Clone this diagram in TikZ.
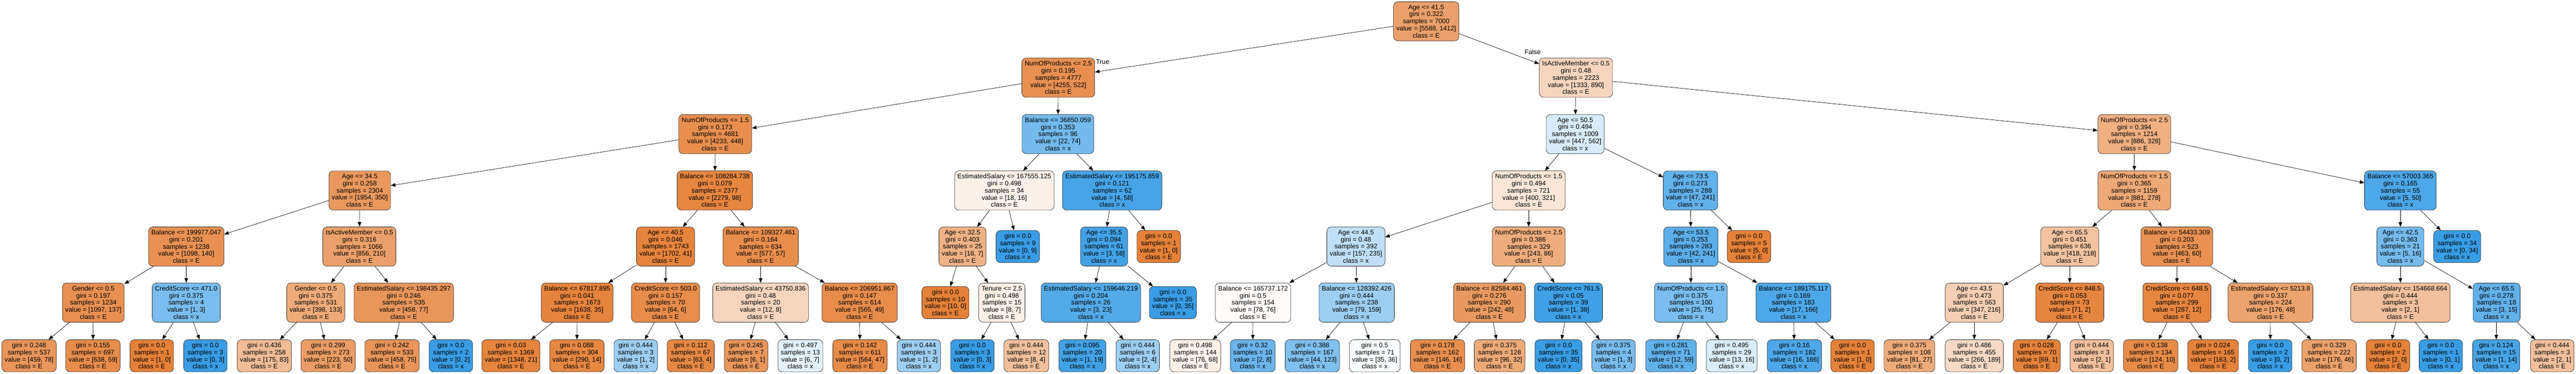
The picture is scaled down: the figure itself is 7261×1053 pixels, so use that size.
\documentclass[tikz,border=0pt]{standalone}
\usepackage{fontspec}
\setmainfont{Liberation Sans}
\usetikzlibrary{arrows.meta}
\definecolor{clsE}{HTML}{E58139}
\definecolor{clsx}{HTML}{399DE5}

\begin{document}
\begin{tikzpicture}[x=1pt,y=-1pt,
		tnode/.style={draw=black!85,line width=1pt,rounded corners=12pt,align=center,
			inner xsep=8pt,inner ysep=8.5pt,font=\fontsize{18.5}{20}\selectfont},
		mixfill/.code 2 args={%
			\ifdim #1pt<#2pt
				\pgfmathsetmacro\mfpct{round(100*(1-#1/#2))}\def\mfcol{clsx}%
			\else
				\pgfmathsetmacro\mfpct{round(100*(1-#2/#1))}\def\mfcol{clsE}%
			\fi
			\pgfkeysalso{fill=\mfcol!\mfpct!white}},
		link/.style={line width=1pt,-{Triangle[length=13pt,width=10pt]}},
		tag/.style={font=\fontsize{18.5}{20}\selectfont}]
	\useasboundingbox (0,0) rectangle (7261,1053);

	\node[tnode,mixfill={5588}{1412}] (l0n1) at (4020,60) {Age <= 41.5\\gini = 0.322\\samples = 7000\\value = [5588, 1412]\\class = E};

	\node[tnode,mixfill={4255}{522}] (l1n1) at (2983,219) {NumOfProducts <= 2.5\\gini = 0.195\\samples = 4777\\value = [4255, 522]\\class = E};
	\node[tnode,mixfill={1333}{890}] (l1n2) at (4442,219) {IsActiveMember <= 0.5\\gini = 0.48\\samples = 2223\\value = [1333, 890]\\class = E};

	\node[tnode,mixfill={4233}{448}] (l2n1) at (2016,378) {NumOfProducts <= 1.5\\gini = 0.173\\samples = 4681\\value = [4233, 448]\\class = E};
	\node[tnode,mixfill={22}{74}] (l2n2) at (2982,378) {Balance <= 36850.059\\gini = 0.353\\samples = 96\\value = [22, 74]\\class = x};
	\node[tnode,mixfill={447}{562}] (l2n3) at (4440,378) {Age <= 50.5\\gini = 0.494\\samples = 1009\\value = [447, 562]\\class = x};
	\node[tnode,mixfill={886}{328}] (l2n4) at (6016,378) {NumOfProducts <= 2.5\\gini = 0.394\\samples = 1214\\value = [886, 328]\\class = E};

	\node[tnode,mixfill={1954}{350}] (l3n1) at (1014,537) {Age <= 34.5\\gini = 0.258\\samples = 2304\\value = [1954, 350]\\class = E};
	\node[tnode,mixfill={2279}{98}] (l3n2) at (2015,537) {Balance <= 108284.738\\gini = 0.079\\samples = 2377\\value = [2279, 98]\\class = E};
	\node[tnode,mixfill={18}{16}] (l3n3) at (2831,537) {EstimatedSalary <= 167555.125\\gini = 0.498\\samples = 34\\value = [18, 16]\\class = E};
	\node[tnode,mixfill={4}{58}] (l3n4) at (3135,537) {EstimatedSalary <= 195175.859\\gini = 0.121\\samples = 62\\value = [4, 58]\\class = x};
	\node[tnode,mixfill={400}{321}] (l3n5) at (4309,537) {NumOfProducts <= 1.5\\gini = 0.494\\samples = 721\\value = [400, 321]\\class = E};
	\node[tnode,mixfill={47}{241}] (l3n6) at (4765,537) {Age <= 73.5\\gini = 0.273\\samples = 288\\value = [47, 241]\\class = x};
	\node[tnode,mixfill={881}{278}] (l3n7) at (6016,537) {NumOfProducts <= 1.5\\gini = 0.365\\samples = 1159\\value = [881, 278]\\class = E};
	\node[tnode,mixfill={5}{50}] (l3n8) at (6766,537) {Balance <= 57003.365\\gini = 0.165\\samples = 55\\value = [5, 50]\\class = x};

	\node[tnode,mixfill={1098}{140}] (l4n1) at (525,695) {Balance <= 199977.047\\gini = 0.201\\samples = 1238\\value = [1098, 140]\\class = E};
	\node[tnode,mixfill={856}{210}] (l4n2) at (1013,695) {IsActiveMember <= 0.5\\gini = 0.316\\samples = 1066\\value = [856, 210]\\class = E};
	\node[tnode,mixfill={1702}{41}] (l4n3) at (1876,695) {Age <= 40.5\\gini = 0.046\\samples = 1743\\value = [1702, 41]\\class = E};
	\node[tnode,mixfill={577}{57}] (l4n4) at (2144,695) {Balance <= 109327.461\\gini = 0.164\\samples = 634\\value = [577, 57]\\class = E};
	\node[tnode,mixfill={18}{7}] (l4n5) at (2713,695) {Age <= 32.5\\gini = 0.403\\samples = 25\\value = [18, 7]\\class = E};
	\node[tnode,mixfill={0}{9}] (l4n6) at (2869,695) {gini = 0.0\\samples = 9\\value = [0, 9]\\class = x};
	\node[tnode,mixfill={3}{58}] (l4n7) at (3112,695) {Age <= 35.5\\gini = 0.094\\samples = 61\\value = [3, 58]\\class = x};
	\node[tnode,mixfill={1}{0}] (l4n8) at (3266,695) {gini = 0.0\\samples = 1\\value = [1, 0]\\class = E};
	\node[tnode,mixfill={157}{235}] (l4n9) at (3822,695) {Age <= 44.5\\gini = 0.48\\samples = 392\\value = [157, 235]\\class = x};
	\node[tnode,mixfill={243}{86}] (l4n10) at (4309,695) {NumOfProducts <= 2.5\\gini = 0.386\\samples = 329\\value = [243, 86]\\class = E};
	\node[tnode,mixfill={42}{241}] (l4n11) at (4766,695) {Age <= 53.5\\gini = 0.253\\samples = 283\\value = [42, 241]\\class = x};
	\node[tnode,mixfill={5}{0}] (l4n12) at (4930,695) {gini = 0.0\\samples = 5\\value = [5, 0]\\class = E};
	\node[tnode,mixfill={418}{218}] (l4n13) at (5834,695) {Age <= 65.5\\gini = 0.451\\samples = 636\\value = [418, 218]\\class = E};
	\node[tnode,mixfill={463}{60}] (l4n14) at (6136,695) {Balance <= 54433.309\\gini = 0.203\\samples = 523\\value = [463, 60]\\class = E};
	\node[tnode,mixfill={5}{16}] (l4n15) at (6766,695) {Age <= 42.5\\gini = 0.363\\samples = 21\\value = [5, 16]\\class = x};
	\node[tnode,mixfill={0}{34}] (l4n16) at (6926,695) {gini = 0.0\\samples = 34\\value = [0, 34]\\class = x};

	\node[tnode,mixfill={1097}{137}] (l5n1) at (263,853) {Gender <= 0.5\\gini = 0.197\\samples = 1234\\value = [1097, 137]\\class = E};
	\node[tnode,mixfill={1}{3}] (l5n2) at (525,853) {CreditScore <= 471.0\\gini = 0.375\\samples = 4\\value = [1, 3]\\class = x};
	\node[tnode,mixfill={398}{133}] (l5n3) at (890,853) {Gender <= 0.5\\gini = 0.375\\samples = 531\\value = [398, 133]\\class = E};
	\node[tnode,mixfill={458}{77}] (l5n4) at (1138,853) {EstimatedSalary <= 198435.297\\gini = 0.246\\samples = 535\\value = [458, 77]\\class = E};
	\node[tnode,mixfill={1638}{35}] (l5n5) at (1627,853) {Balance <= 67817.895\\gini = 0.041\\samples = 1673\\value = [1638, 35]\\class = E};
	\node[tnode,mixfill={64}{6}] (l5n6) at (1876,853) {CreditScore <= 503.0\\gini = 0.157\\samples = 70\\value = [64, 6]\\class = E};
	\node[tnode,mixfill={12}{8}] (l5n7) at (2144,853) {EstimatedSalary <= 43750.836\\gini = 0.48\\samples = 20\\value = [12, 8]\\class = E};
	\node[tnode,mixfill={565}{49}] (l5n8) at (2423,853) {Balance <= 206951.867\\gini = 0.147\\samples = 614\\value = [565, 49]\\class = E};
	\node[tnode,mixfill={10}{0}] (l5n9) at (2665,853) {gini = 0.0\\samples = 10\\value = [10, 0]\\class = E};
	\node[tnode,mixfill={8}{7}] (l5n10) at (2824,853) {Tenure <= 2.5\\gini = 0.498\\samples = 15\\value = [8, 7]\\class = E};
	\node[tnode,mixfill={3}{23}] (l5n11) at (3075,853) {EstimatedSalary <= 159646.219\\gini = 0.204\\samples = 26\\value = [3, 23]\\class = x};
	\node[tnode,mixfill={0}{35}] (l5n12) at (3306,853) {gini = 0.0\\samples = 35\\value = [0, 35]\\class = x};
	\node[tnode,mixfill={78}{76}] (l5n13) at (3532,853) {Balance <= 165737.172\\gini = 0.5\\samples = 154\\value = [78, 76]\\class = E};
	\node[tnode,mixfill={79}{159}] (l5n14) at (3824,853) {Balance <= 128392.426\\gini = 0.444\\samples = 238\\value = [79, 159]\\class = x};
	\node[tnode,mixfill={242}{48}] (l5n15) at (4198,853) {Balance <= 82584.461\\gini = 0.276\\samples = 290\\value = [242, 48]\\class = E};
	\node[tnode,mixfill={1}{38}] (l5n16) at (4421,853) {CreditScore <= 761.5\\gini = 0.05\\samples = 39\\value = [1, 38]\\class = x};
	\node[tnode,mixfill={25}{75}] (l5n17) at (4766,853) {NumOfProducts <= 1.5\\gini = 0.375\\samples = 100\\value = [25, 75]\\class = x};
	\node[tnode,mixfill={17}{166}] (l5n18) at (5055,853) {Balance <= 189175.117\\gini = 0.169\\samples = 183\\value = [17, 166]\\class = x};
	\node[tnode,mixfill={347}{216}] (l5n19) at (5565,853) {Age <= 43.5\\gini = 0.473\\samples = 563\\value = [347, 216]\\class = E};
	\node[tnode,mixfill={71}{2}] (l5n20) at (5834,853) {CreditScore <= 848.5\\gini = 0.053\\samples = 73\\value = [71, 2]\\class = E};
	\node[tnode,mixfill={287}{12}] (l5n21) at (6136,853) {CreditScore <= 648.5\\gini = 0.077\\samples = 299\\value = [287, 12]\\class = E};
	\node[tnode,mixfill={176}{48}] (l5n22) at (6400,853) {EstimatedSalary <= 5213.8\\gini = 0.337\\samples = 224\\value = [176, 48]\\class = E};
	\node[tnode,mixfill={2}{1}] (l5n23) at (6766,853) {EstimatedSalary <= 154668.664\\gini = 0.444\\samples = 3\\value = [2, 1]\\class = E};
	\node[tnode,mixfill={3}{15}] (l5n24) at (7037,853) {Age <= 65.5\\gini = 0.278\\samples = 18\\value = [3, 15]\\class = x};

	\node[tnode,mixfill={459}{78}] (l6n1) at (82,1003) {gini = 0.248\\samples = 537\\value = [459, 78]\\class = E};
	\node[tnode,mixfill={638}{59}] (l6n2) at (262,1003) {gini = 0.155\\samples = 697\\value = [638, 59]\\class = E};
	\node[tnode,mixfill={1}{0}] (l6n3) at (428,1003) {gini = 0.0\\samples = 1\\value = [1, 0]\\class = E};
	\node[tnode,mixfill={0}{3}] (l6n4) at (579,1003) {gini = 0.0\\samples = 3\\value = [0, 3]\\class = x};
	\node[tnode,mixfill={175}{83}] (l6n5) at (745,1003) {gini = 0.436\\samples = 258\\value = [175, 83]\\class = E};
	\node[tnode,mixfill={223}{50}] (l6n6) at (925,1003) {gini = 0.299\\samples = 273\\value = [223, 50]\\class = E};
	\node[tnode,mixfill={458}{75}] (l6n7) at (1105,1003) {gini = 0.242\\samples = 533\\value = [458, 75]\\class = E};
	\node[tnode,mixfill={0}{2}] (l6n8) at (1271,1003) {gini = 0.0\\samples = 2\\value = [0, 2]\\class = x};
	\node[tnode,mixfill={1348}{21}] (l6n9) at (1440,1003) {gini = 0.03\\samples = 1369\\value = [1348, 21]\\class = E};
	\node[tnode,mixfill={290}{14}] (l6n10) at (1626,1003) {gini = 0.088\\samples = 304\\value = [290, 14]\\class = E};
	\node[tnode,mixfill={1}{2}] (l6n11) at (1792,1003) {gini = 0.444\\samples = 3\\value = [1, 2]\\class = x};
	\node[tnode,mixfill={63}{4}] (l6n12) at (1947,1003) {gini = 0.112\\samples = 67\\value = [63, 4]\\class = E};
	\node[tnode,mixfill={6}{1}] (l6n13) at (2103,1003) {gini = 0.245\\samples = 7\\value = [6, 1]\\class = E};
	\node[tnode,mixfill={6}{7}] (l6n14) at (2256,1003) {gini = 0.497\\samples = 13\\value = [6, 7]\\class = x};
	\node[tnode,mixfill={564}{47}] (l6n15) at (2424,1003) {gini = 0.142\\samples = 611\\value = [564, 47]\\class = E};
	\node[tnode,mixfill={1}{2}] (l6n16) at (2590,1003) {gini = 0.444\\samples = 3\\value = [1, 2]\\class = x};
	\node[tnode,mixfill={0}{3}] (l6n17) at (2741,1003) {gini = 0.0\\samples = 3\\value = [0, 3]\\class = x};
	\node[tnode,mixfill={8}{4}] (l6n18) at (2893,1003) {gini = 0.444\\samples = 12\\value = [8, 4]\\class = E};
	\node[tnode,mixfill={1}{19}] (l6n19) at (3051,1003) {gini = 0.095\\samples = 20\\value = [1, 19]\\class = x};
	\node[tnode,mixfill={2}{4}] (l6n20) at (3207,1003) {gini = 0.444\\samples = 6\\value = [2, 4]\\class = x};
	\node[tnode,mixfill={76}{68}] (l6n21) at (3369,1003) {gini = 0.498\\samples = 144\\value = [76, 68]\\class = E};
	\node[tnode,mixfill={2}{8}] (l6n22) at (3531,1003) {gini = 0.32\\samples = 10\\value = [2, 8]\\class = x};
	\node[tnode,mixfill={44}{123}] (l6n23) at (3699,1003) {gini = 0.388\\samples = 167\\value = [44, 123]\\class = x};
	\node[tnode,mixfill={35}{36}] (l6n24) at (3875,1003) {gini = 0.5\\samples = 71\\value = [35, 36]\\class = x};
	\node[tnode,mixfill={146}{16}] (l6n25) at (4052,1003) {gini = 0.178\\samples = 162\\value = [146, 16]\\class = E};
	\node[tnode,mixfill={96}{32}] (l6n26) at (4227,1003) {gini = 0.375\\samples = 128\\value = [96, 32]\\class = E};
	\node[tnode,mixfill={0}{35}] (l6n27) at (4393,1003) {gini = 0.0\\samples = 35\\value = [0, 35]\\class = x};
	\node[tnode,mixfill={1}{3}] (l6n28) at (4548,1003) {gini = 0.375\\samples = 4\\value = [1, 3]\\class = x};
	\node[tnode,mixfill={12}{59}] (l6n29) at (4710,1003) {gini = 0.281\\samples = 71\\value = [12, 59]\\class = x};
	\node[tnode,mixfill={13}{16}] (l6n30) at (4881,1003) {gini = 0.495\\samples = 29\\value = [13, 16]\\class = x};
	\node[tnode,mixfill={16}{166}] (l6n31) at (5058,1003) {gini = 0.16\\samples = 182\\value = [16, 166]\\class = x};
	\node[tnode,mixfill={1}{0}] (l6n32) at (5222,1003) {gini = 0.0\\samples = 1\\value = [1, 0]\\class = E};
	\node[tnode,mixfill={81}{27}] (l6n33) at (5382,1003) {gini = 0.375\\samples = 108\\value = [81, 27]\\class = E};
	\node[tnode,mixfill={266}{189}] (l6n34) at (5565,1003) {gini = 0.486\\samples = 455\\value = [266, 189]\\class = E};
	\node[tnode,mixfill={69}{1}] (l6n35) at (5741,1003) {gini = 0.028\\samples = 70\\value = [69, 1]\\class = E};
	\node[tnode,mixfill={2}{1}] (l6n36) at (5896,1003) {gini = 0.444\\samples = 3\\value = [2, 1]\\class = E};
	\node[tnode,mixfill={124}{10}] (l6n37) at (6062,1003) {gini = 0.138\\samples = 134\\value = [124, 10]\\class = E};
	\node[tnode,mixfill={163}{2}] (l6n38) at (6238,1003) {gini = 0.024\\samples = 165\\value = [163, 2]\\class = E};
	\node[tnode,mixfill={0}{2}] (l6n39) at (6399,1003) {gini = 0.0\\samples = 2\\value = [0, 2]\\class = x};
	\node[tnode,mixfill={176}{46}] (l6n40) at (6565,1003) {gini = 0.329\\samples = 222\\value = [176, 46]\\class = E};
	\node[tnode,mixfill={2}{0}] (l6n41) at (6731,1003) {gini = 0.0\\samples = 2\\value = [2, 0]\\class = E};
	\node[tnode,mixfill={0}{1}] (l6n42) at (6880,1003) {gini = 0.0\\samples = 1\\value = [0, 1]\\class = x};
	\node[tnode,mixfill={1}{14}] (l6n43) at (7036,1003) {gini = 0.124\\samples = 15\\value = [1, 14]\\class = x};
	\node[tnode,mixfill={2}{1}] (l6n44) at (7194,1003) {gini = 0.444\\samples = 3\\value = [2, 1]\\class = E};

	\draw[link] (l0n1) -- (l1n1);
	\draw[link] (l0n1) -- (l1n2);
	\node[tag] (ttrue) at (3108,174) {True};
	\node[tag] (tfalse) at (4320,146) {False};

	\draw[link] (l1n1) -- (l2n1);
	\draw[link] (l1n1) -- (l2n2);
	\draw[link] (l1n2) -- (l2n3);
	\draw[link] (l1n2) -- (l2n4);

	\draw[link] (l2n1) -- (l3n1);
	\draw[link] (l2n1) -- (l3n2);
	\draw[link] (l2n2) -- (l3n3);
	\draw[link] (l2n2) -- (l3n4);
	\draw[link] (l2n3) -- (l3n5);
	\draw[link] (l2n3) -- (l3n6);
	\draw[link] (l2n4) -- (l3n7);
	\draw[link] (l2n4) -- (l3n8);

	\draw[link] (l3n1) -- (l4n1);
	\draw[link] (l3n1) -- (l4n2);
	\draw[link] (l3n2) -- (l4n3);
	\draw[link] (l3n2) -- (l4n4);
	\draw[link] (l3n3) -- (l4n5);
	\draw[link] (l3n3) -- (l4n6);
	\draw[link] (l3n4) -- (l4n7);
	\draw[link] (l3n4) -- (l4n8);
	\draw[link] (l3n5) -- (l4n9);
	\draw[link] (l3n5) -- (l4n10);
	\draw[link] (l3n6) -- (l4n11);
	\draw[link] (l3n6) -- (l4n12);
	\draw[link] (l3n7) -- (l4n13);
	\draw[link] (l3n7) -- (l4n14);
	\draw[link] (l3n8) -- (l4n15);
	\draw[link] (l3n8) -- (l4n16);

	\draw[link] (l4n1) -- (l5n1);
	\draw[link] (l4n1) -- (l5n2);
	\draw[link] (l4n2) -- (l5n3);
	\draw[link] (l4n2) -- (l5n4);
	\draw[link] (l4n3) -- (l5n5);
	\draw[link] (l4n3) -- (l5n6);
	\draw[link] (l4n4) -- (l5n7);
	\draw[link] (l4n4) -- (l5n8);
	\draw[link] (l4n5) -- (l5n9);
	\draw[link] (l4n5) -- (l5n10);
	\draw[link] (l4n7) -- (l5n11);
	\draw[link] (l4n7) -- (l5n12);
	\draw[link] (l4n9) -- (l5n13);
	\draw[link] (l4n9) -- (l5n14);
	\draw[link] (l4n10) -- (l5n15);
	\draw[link] (l4n10) -- (l5n16);
	\draw[link] (l4n11) -- (l5n17);
	\draw[link] (l4n11) -- (l5n18);
	\draw[link] (l4n13) -- (l5n19);
	\draw[link] (l4n13) -- (l5n20);
	\draw[link] (l4n14) -- (l5n21);
	\draw[link] (l4n14) -- (l5n22);
	\draw[link] (l4n15) -- (l5n23);
	\draw[link] (l4n15) -- (l5n24);

	\draw[link] (l5n1) -- (l6n1);
	\draw[link] (l5n1) -- (l6n2);
	\draw[link] (l5n2) -- (l6n3);
	\draw[link] (l5n2) -- (l6n4);
	\draw[link] (l5n3) -- (l6n5);
	\draw[link] (l5n3) -- (l6n6);
	\draw[link] (l5n4) -- (l6n7);
	\draw[link] (l5n4) -- (l6n8);
	\draw[link] (l5n5) -- (l6n9);
	\draw[link] (l5n5) -- (l6n10);
	\draw[link] (l5n6) -- (l6n11);
	\draw[link] (l5n6) -- (l6n12);
	\draw[link] (l5n7) -- (l6n13);
	\draw[link] (l5n7) -- (l6n14);
	\draw[link] (l5n8) -- (l6n15);
	\draw[link] (l5n8) -- (l6n16);
	\draw[link] (l5n10) -- (l6n17);
	\draw[link] (l5n10) -- (l6n18);
	\draw[link] (l5n11) -- (l6n19);
	\draw[link] (l5n11) -- (l6n20);
	\draw[link] (l5n13) -- (l6n21);
	\draw[link] (l5n13) -- (l6n22);
	\draw[link] (l5n14) -- (l6n23);
	\draw[link] (l5n14) -- (l6n24);
	\draw[link] (l5n15) -- (l6n25);
	\draw[link] (l5n15) -- (l6n26);
	\draw[link] (l5n16) -- (l6n27);
	\draw[link] (l5n16) -- (l6n28);
	\draw[link] (l5n17) -- (l6n29);
	\draw[link] (l5n17) -- (l6n30);
	\draw[link] (l5n18) -- (l6n31);
	\draw[link] (l5n18) -- (l6n32);
	\draw[link] (l5n19) -- (l6n33);
	\draw[link] (l5n19) -- (l6n34);
	\draw[link] (l5n20) -- (l6n35);
	\draw[link] (l5n20) -- (l6n36);
	\draw[link] (l5n21) -- (l6n37);
	\draw[link] (l5n21) -- (l6n38);
	\draw[link] (l5n22) -- (l6n39);
	\draw[link] (l5n22) -- (l6n40);
	\draw[link] (l5n23) -- (l6n41);
	\draw[link] (l5n23) -- (l6n42);
	\draw[link] (l5n24) -- (l6n43);
	\draw[link] (l5n24) -- (l6n44);
\end{tikzpicture}
\end{document}
